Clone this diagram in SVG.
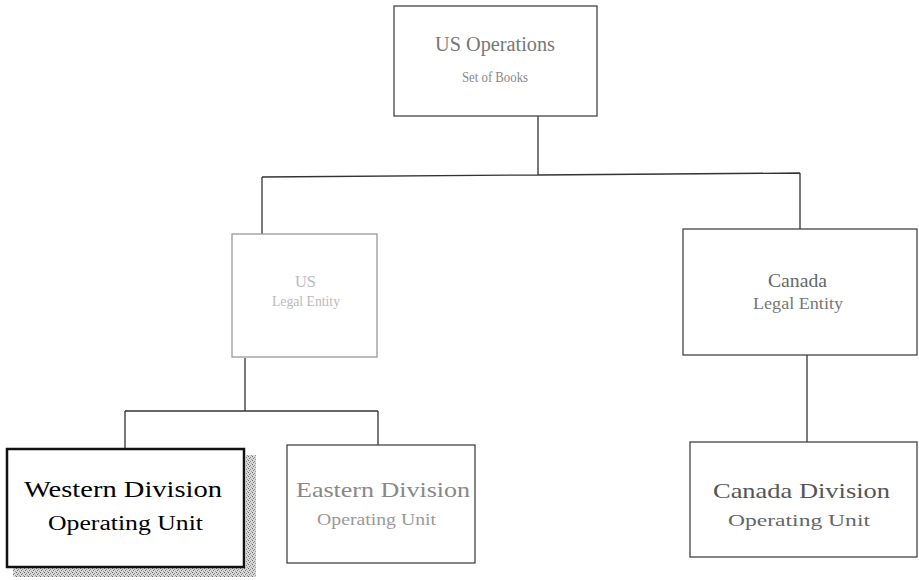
<svg xmlns="http://www.w3.org/2000/svg" width="919" height="580" viewBox="0 0 919 580">
<defs>
<pattern id="dither" width="4" height="4" patternUnits="userSpaceOnUse">
<rect width="4" height="4" fill="#d8d8d8"/>
<rect x="0" y="0" width="1" height="1" fill="#666"/>
<rect x="2" y="1" width="1" height="1" fill="#888"/>
<rect x="1" y="2" width="1" height="1" fill="#777"/>
<rect x="3" y="3" width="1" height="1" fill="#999"/>
</pattern>
</defs>
<style>
.box{fill:#fff;stroke:#444;stroke-width:1.3}
.light{stroke:#999}
.thick{stroke:#111;stroke-width:2.5}
.t{font-family:"Liberation Serif","Times New Roman",serif}
.conn{fill:none;stroke:#333;stroke-width:1.3}
</style>
<rect width="919" height="580" fill="#fff"/>
<g id="connectors">
<path class="conn" d="M538,116 V175 M262,177 L538,175 L800,173 M262,177 V234 M800,173 V229"/>
<path class="conn" d="M245,358 V411 M125,411 H378 M125,411 V449 M378,411 V445"/>
<path class="conn" d="M807,355 V442"/>
</g>
<g id="us-operations">
<rect class="box" x="394" y="6" width="203" height="110"/>
<text class="t" x="435" y="51" font-size="20" fill="#777" textLength="120" lengthAdjust="spacingAndGlyphs">US Operations</text>
<text class="t" x="462" y="82" font-size="15" fill="#888" textLength="66" lengthAdjust="spacingAndGlyphs">Set of Books</text>
</g>
<g id="us-legal">
<rect class="box light" x="232" y="234" width="145" height="123"/>
<text class="t" x="295" y="287" font-size="17" fill="#bbb" textLength="21" lengthAdjust="spacingAndGlyphs">US</text>
<text class="t" x="272" y="306" font-size="14" fill="#bbb" textLength="68" lengthAdjust="spacingAndGlyphs">Legal Entity</text>
</g>
<g id="canada-legal">
<rect class="box" x="683" y="229" width="234" height="126"/>
<text class="t" x="768" y="287" font-size="18" fill="#666" textLength="59" lengthAdjust="spacingAndGlyphs">Canada</text>
<text class="t" x="753" y="309" font-size="16" fill="#777" textLength="90" lengthAdjust="spacingAndGlyphs">Legal Entity</text>
</g>
<g id="western">
<rect x="246" y="455" width="10" height="122" fill="url(#dither)"/>
<rect x="13" y="567" width="243" height="10" fill="url(#dither)"/>
<rect class="box thick" x="7" y="449" width="237" height="118"/>
<text class="t" x="24" y="497" font-size="23" fill="#000" textLength="198" lengthAdjust="spacingAndGlyphs">Western Division</text>
<text class="t" x="48" y="530" font-size="20" fill="#000" textLength="155" lengthAdjust="spacingAndGlyphs">Operating Unit</text>
</g>
<g id="eastern">
<rect class="box" x="287" y="445" width="188" height="118"/>
<text class="t" x="296" y="497" font-size="21" fill="#888" textLength="174" lengthAdjust="spacingAndGlyphs">Eastern Division</text>
<text class="t" x="317" y="525" font-size="17" fill="#999" textLength="119" lengthAdjust="spacingAndGlyphs">Operating Unit</text>
</g>
<g id="canada-division">
<rect class="box" x="690" y="442" width="227" height="115"/>
<text class="t" x="713" y="498" font-size="21" fill="#555" textLength="177" lengthAdjust="spacingAndGlyphs">Canada Division</text>
<text class="t" x="728" y="526" font-size="17" fill="#666" textLength="142" lengthAdjust="spacingAndGlyphs">Operating Unit</text>
</g>
</svg>
